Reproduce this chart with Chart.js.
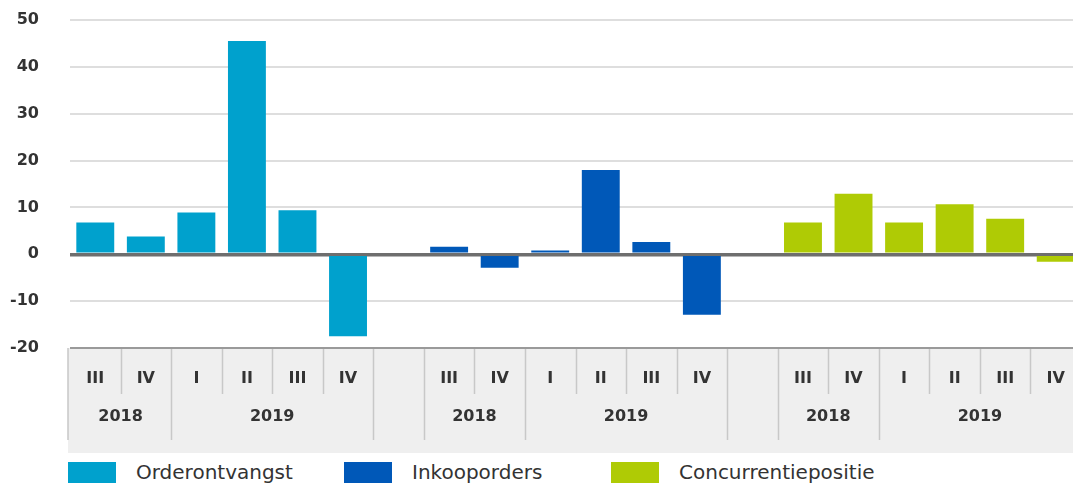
<!DOCTYPE html>
<html>
<head>
<meta charset="utf-8">
<script src="https://cdn.jsdelivr.net/npm/chart.js@4"></script>
<style>
  html, body { margin: 0; padding: 0; background: #fff; overflow: hidden; }
  #wrap { width: 1073px; height: 484px; overflow: hidden; position: relative; }
  #box { width: 1081px; height: 460px; position: absolute; left: 0; top: 0; }
  #legend { position: absolute; left: 68px; top: 462px; font-family: "DejaVu Sans", sans-serif; font-size: 20px; color: #333; white-space: nowrap; }
  #legend span.item { display: inline-block; vertical-align: top; height: 22px; line-height: 21px; }
  #legend span.swatch { display: inline-block; width: 48px; height: 21px; vertical-align: top; margin-right: 20px; }
</style>
</head>
<body>
<div id="wrap">
  <div id="box"><canvas id="myChart"></canvas></div>
  <div id="legend"></div>
</div>
<script>
// quarters shown for each series, with their years
const quarters = ['III', 'IV', 'I', 'II', 'III', 'IV'];
const years = ['2018', '2018', '2019', '2019', '2019', '2019'];

const seriesNames = ['Orderontvangst', 'Inkooporders', 'Concurrentiepositie'];
const seriesColors = ['#00a1cd', '#0058b8', '#afcb05'];

const orderontvangst = [6.8, 3.8, 8.9, 45.5, 9.4, -17.5];
const inkooporders = [1.6, -2.9, 0.8, 18.0, 2.6, -12.9];
const concurrentiepositie = [6.8, 12.9, 6.8, 10.7, 7.6, -1.6];

const yTicks = [-20, -10, 0, 10, 20, 30, 40, 50];

document.addEventListener('DOMContentLoaded', function() {
    const ctx = document.getElementById('myChart').getContext('2d');
    const values = [orderontvangst, inkooporders, concurrentiepositie];

    // one empty slot between the three groups
    const labels = [];
    const yearOf = [];
    values.forEach((v, g) => {
        if (g > 0) { labels.push(''); yearOf.push(''); }
        quarters.forEach((q, i) => { labels.push(q); yearOf.push(years[i]); });
    });

    const datasets = values.map((v, g) => {
        const data = [];
        values.forEach((w, h) => {
            if (h > 0) data.push(null);
            w.forEach(x => data.push(h === g ? x : null));
        });
        return {
            label: seriesNames[g],
            data: data,
            backgroundColor: seriesColors[g],
            barPercentage: 0.75,
            categoryPercentage: 1
        };
    });

    const axisFont = { family: 'DejaVu Sans', size: 16, weight: 'bold' };

    // grey band under the plot with quarter and year labels
    const bandPlugin = {
        id: 'band',
        beforeDraw(chart) {
            const c = chart.ctx;
            const area = chart.chartArea;
            const x = chart.scales.x;
            const top = area.bottom;
            const bottom = x.bottom;
            c.save();
            c.fillStyle = '#efefef';
            c.fillRect(area.left - 2, top, chart.width, bottom - top);

            const edge = i => (x.getPixelForValue(i) + x.getPixelForValue(i + 1)) / 2;
            c.strokeStyle = '#c8c8c8';
            c.lineWidth = 1.5;
            c.beginPath();
            c.moveTo(area.left - 2, top);
            c.lineTo(area.left - 2, top + 92);
            for (let i = 0; i < labels.length - 1; i++) {
                const px = Math.round(edge(i)) + 0.5;
                const long = yearOf[i] !== yearOf[i + 1];
                c.moveTo(px, top);
                c.lineTo(px, top + (long ? 92 : 46));
            }
            c.stroke();

            c.fillStyle = '#333';
            c.font = 'bold 16px "DejaVu Sans"';
            c.textAlign = 'center';
            c.textBaseline = 'middle';
            labels.forEach((l, i) => {
                if (l) c.fillText(l, x.getPixelForValue(i), top + 31);
            });
            let start = 0;
            for (let i = 1; i <= labels.length; i++) {
                if (i === labels.length || yearOf[i] !== yearOf[start]) {
                    if (yearOf[start]) {
                        const mid = (x.getPixelForValue(start) + x.getPixelForValue(i - 1)) / 2;
                        c.fillText(yearOf[start], mid, top + 69);
                    }
                    start = i;
                }
            }
            c.restore();
        }
    };

    new Chart(ctx, {
        type: 'bar',
        data: { labels: labels, datasets: datasets },
        options: {
            responsive: true,
            maintainAspectRatio: false,
            animation: false,
            layout: { padding: { top: 20, bottom: 7, left: 0, right: 0 } },
            datasets: { bar: { grouped: false } },
            plugins: {
                legend: { display: false },
                tooltip: { enabled: false }
            },
            scales: {
                x: {
                    grid: { display: false },
                    border: { display: false },
                    ticks: { display: false },
                    afterFit(scale) { scale.height = 105; }
                },
                y: {
                    min: -20,
                    max: 50,
                    afterBuildTicks(scale) { scale.ticks = yTicks.map(v => ({ value: v })); },
                    afterFit(scale) {
                        scale.width = 70;
                        scale.paddingTop = 0;
                        scale.paddingBottom = 0;
                    },
                    border: { display: false },
                    grid: {
                        drawTicks: false,
                        color: c => c.tick.value === 0 ? '#6e6e6e' : (c.tick.value === -20 ? '#9a9a9a' : '#dedede'),
                        lineWidth: c => c.tick.value === 0 ? 3.5 : 2
                    },
                    ticks: {
                        padding: 31,
                        color: '#333',
                        font: axisFont
                    }
                }
            }
        },
        plugins: [bandPlugin]
    });

    // legend with fixed columns
    const legend = document.getElementById('legend');
    const widths = [276, 267, 300];
    seriesNames.forEach((n, i) => {
        const item = document.createElement('span');
        item.className = 'item';
        item.style.width = widths[i] + 'px';
        const sw = document.createElement('span');
        sw.className = 'swatch';
        sw.style.background = seriesColors[i];
        item.appendChild(sw);
        item.appendChild(document.createTextNode(n));
        legend.appendChild(item);
    });
});
</script>
</body>
</html>
